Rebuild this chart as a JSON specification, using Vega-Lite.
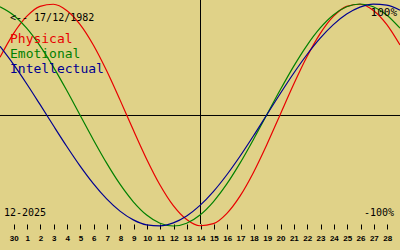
{
  "$schema": "https://vega.github.io/schema/vega-lite/v6.json",
  "width": 400,
  "height": 224,
  "autosize": "none",
  "padding": {"left": 0, "top": 0, "right": 0, "bottom": 26},
  "background": "#e0d288",
  "config": {
    "view": {"stroke": null},
    "axisX": {
      "domain": false,
      "grid": false,
      "tickSize": 5,
      "tickColor": "#000000",
      "tickWidth": 1,
      "tickOffset": 0.5,
      "labelPadding": 5,
      "labelFont": "Liberation Sans",
      "labelFontSize": 8,
      "labelFontWeight": "bold",
      "labelColor": "#000000",
      "labelOverlap": false,
      "labelFlush": false
    }
  },
  "layer": [
    {
      "data": {"values": [{}]},
      "mark": {"type": "rule", "color": "#000000", "strokeWidth": 1, "yOffset": 0.5},
      "encoding": {
        "y": {"datum": 0, "type": "quantitative", "axis": null}
      }
    },
    {
      "data": {"values": [{}]},
      "mark": {"type": "rule", "color": "#000000", "strokeWidth": 1, "xOffset": 0.5},
      "encoding": {
        "x": {"datum": {"year": 2025, "month": 12, "date": 14, "utc": true}, "type": "temporal", "axis": {"title": null, "tickCount": {"interval": "day", "step": 1}, "format": "%-d"}}
      }
    },
    {
      "data": {"values": [
        {"date": "2025-11-29", "series": "Physical", "value": 0.5196},
        {"date": "2025-11-30", "series": "Physical", "value": 0.7308},
        {"date": "2025-12-01", "series": "Physical", "value": 0.8879},
        {"date": "2025-12-02", "series": "Physical", "value": 0.9791},
        {"date": "2025-12-03", "series": "Physical", "value": 0.9977},
        {"date": "2025-12-04", "series": "Physical", "value": 0.9423},
        {"date": "2025-12-05", "series": "Physical", "value": 0.8170},
        {"date": "2025-12-06", "series": "Physical", "value": 0.6311},
        {"date": "2025-12-07", "series": "Physical", "value": 0.3984},
        {"date": "2025-12-08", "series": "Physical", "value": 0.1362},
        {"date": "2025-12-09", "series": "Physical", "value": -0.1362},
        {"date": "2025-12-10", "series": "Physical", "value": -0.3984},
        {"date": "2025-12-11", "series": "Physical", "value": -0.6311},
        {"date": "2025-12-12", "series": "Physical", "value": -0.8170},
        {"date": "2025-12-13", "series": "Physical", "value": -0.9423},
        {"date": "2025-12-14", "series": "Physical", "value": -0.9977},
        {"date": "2025-12-15", "series": "Physical", "value": -0.9791},
        {"date": "2025-12-16", "series": "Physical", "value": -0.8879},
        {"date": "2025-12-17", "series": "Physical", "value": -0.7308},
        {"date": "2025-12-18", "series": "Physical", "value": -0.5196},
        {"date": "2025-12-19", "series": "Physical", "value": -0.2698},
        {"date": "2025-12-20", "series": "Physical", "value": 0},
        {"date": "2025-12-21", "series": "Physical", "value": 0.2698},
        {"date": "2025-12-22", "series": "Physical", "value": 0.5196},
        {"date": "2025-12-23", "series": "Physical", "value": 0.7308},
        {"date": "2025-12-24", "series": "Physical", "value": 0.8879},
        {"date": "2025-12-25", "series": "Physical", "value": 0.9791},
        {"date": "2025-12-26", "series": "Physical", "value": 0.9977},
        {"date": "2025-12-27", "series": "Physical", "value": 0.9423},
        {"date": "2025-12-28", "series": "Physical", "value": 0.8170},
        {"date": "2025-12-29", "series": "Physical", "value": 0.6311},
        {"date": "2025-11-29", "series": "Emotional", "value": 0.9749},
        {"date": "2025-11-30", "series": "Emotional", "value": 0.9010},
        {"date": "2025-12-01", "series": "Emotional", "value": 0.7818},
        {"date": "2025-12-02", "series": "Emotional", "value": 0.6235},
        {"date": "2025-12-03", "series": "Emotional", "value": 0.4339},
        {"date": "2025-12-04", "series": "Emotional", "value": 0.2225},
        {"date": "2025-12-05", "series": "Emotional", "value": 0},
        {"date": "2025-12-06", "series": "Emotional", "value": -0.2225},
        {"date": "2025-12-07", "series": "Emotional", "value": -0.4339},
        {"date": "2025-12-08", "series": "Emotional", "value": -0.6235},
        {"date": "2025-12-09", "series": "Emotional", "value": -0.7818},
        {"date": "2025-12-10", "series": "Emotional", "value": -0.9010},
        {"date": "2025-12-11", "series": "Emotional", "value": -0.9749},
        {"date": "2025-12-12", "series": "Emotional", "value": -1},
        {"date": "2025-12-13", "series": "Emotional", "value": -0.9749},
        {"date": "2025-12-14", "series": "Emotional", "value": -0.9010},
        {"date": "2025-12-15", "series": "Emotional", "value": -0.7818},
        {"date": "2025-12-16", "series": "Emotional", "value": -0.6235},
        {"date": "2025-12-17", "series": "Emotional", "value": -0.4339},
        {"date": "2025-12-18", "series": "Emotional", "value": -0.2225},
        {"date": "2025-12-19", "series": "Emotional", "value": 0},
        {"date": "2025-12-20", "series": "Emotional", "value": 0.2225},
        {"date": "2025-12-21", "series": "Emotional", "value": 0.4339},
        {"date": "2025-12-22", "series": "Emotional", "value": 0.6235},
        {"date": "2025-12-23", "series": "Emotional", "value": 0.7818},
        {"date": "2025-12-24", "series": "Emotional", "value": 0.9010},
        {"date": "2025-12-25", "series": "Emotional", "value": 0.9749},
        {"date": "2025-12-26", "series": "Emotional", "value": 1},
        {"date": "2025-12-27", "series": "Emotional", "value": 0.9749},
        {"date": "2025-12-28", "series": "Emotional", "value": 0.9010},
        {"date": "2025-12-29", "series": "Emotional", "value": 0.7818},
        {"date": "2025-11-29", "series": "Intellectual", "value": 0.6182},
        {"date": "2025-11-30", "series": "Intellectual", "value": 0.4582},
        {"date": "2025-12-01", "series": "Intellectual", "value": 0.2817},
        {"date": "2025-12-02", "series": "Intellectual", "value": 0.0951},
        {"date": "2025-12-03", "series": "Intellectual", "value": -0.0951},
        {"date": "2025-12-04", "series": "Intellectual", "value": -0.2817},
        {"date": "2025-12-05", "series": "Intellectual", "value": -0.4582},
        {"date": "2025-12-06", "series": "Intellectual", "value": -0.6182},
        {"date": "2025-12-07", "series": "Intellectual", "value": -0.7557},
        {"date": "2025-12-08", "series": "Intellectual", "value": -0.8660},
        {"date": "2025-12-09", "series": "Intellectual", "value": -0.9450},
        {"date": "2025-12-10", "series": "Intellectual", "value": -0.9898},
        {"date": "2025-12-11", "series": "Intellectual", "value": -0.9989},
        {"date": "2025-12-12", "series": "Intellectual", "value": -0.9718},
        {"date": "2025-12-13", "series": "Intellectual", "value": -0.9096},
        {"date": "2025-12-14", "series": "Intellectual", "value": -0.8146},
        {"date": "2025-12-15", "series": "Intellectual", "value": -0.6901},
        {"date": "2025-12-16", "series": "Intellectual", "value": -0.5406},
        {"date": "2025-12-17", "series": "Intellectual", "value": -0.3717},
        {"date": "2025-12-18", "series": "Intellectual", "value": -0.1893},
        {"date": "2025-12-19", "series": "Intellectual", "value": 0},
        {"date": "2025-12-20", "series": "Intellectual", "value": 0.1893},
        {"date": "2025-12-21", "series": "Intellectual", "value": 0.3717},
        {"date": "2025-12-22", "series": "Intellectual", "value": 0.5406},
        {"date": "2025-12-23", "series": "Intellectual", "value": 0.6901},
        {"date": "2025-12-24", "series": "Intellectual", "value": 0.8146},
        {"date": "2025-12-25", "series": "Intellectual", "value": 0.9096},
        {"date": "2025-12-26", "series": "Intellectual", "value": 0.9718},
        {"date": "2025-12-27", "series": "Intellectual", "value": 0.9989},
        {"date": "2025-12-28", "series": "Intellectual", "value": 0.9898},
        {"date": "2025-12-29", "series": "Intellectual", "value": 0.9450}
      ]},
      "mark": {"type": "line", "strokeWidth": 1.2, "interpolate": "monotone"},
      "encoding": {
        "x": {
          "field": "date",
          "type": "temporal",
          "scale": {
            "type": "utc",
            "domain": [
              {"year": 2025, "month": 11, "date": 29, "hours": 0, "minutes": 1, "utc": true},
              {"year": 2025, "month": 12, "date": 28, "hours": 23, "minutes": 59, "utc": true}
            ],
            "nice": false
          },
          "axis": {"title": null, "tickCount": {"interval": "day", "step": 1}, "format": "%-d"}
        },
        "y": {
          "field": "value",
          "type": "quantitative",
          "scale": {"domain": [-0.982, 1.036], "nice": false, "zero": false},
          "axis": null
        },
        "color": {
          "field": "series",
          "type": "nominal",
          "scale": {"domain": ["Physical", "Emotional", "Intellectual"], "range": ["#e80000", "#008000", "#000090"]},
          "legend": null
        }
      }
    },
    {
      "data": {"values": [{}]},
      "mark": {"type": "text", "font": "DejaVu Sans Mono", "fontSize": 10, "align": "left", "baseline": "alphabetic", "color": "#000000"},
      "encoding": {
        "x": {"datum": {"year": 2025, "month": 11, "date": 29, "hours": 18, "utc": true}, "type": "temporal", "axis": {"title": null, "tickCount": {"interval": "day", "step": 1}, "format": "%-d"}},
        "y": {"datum": 0.847, "type": "quantitative", "axis": null},
        "text": {"value": "<-- 17/12/1982"}
      }
    },
    {
      "data": {"values": [{}]},
      "mark": {"type": "text", "font": "DejaVu Sans Mono", "fontSize": 13, "align": "left", "baseline": "alphabetic", "color": "#e80000"},
      "encoding": {
        "x": {"datum": {"year": 2025, "month": 11, "date": 29, "hours": 18, "utc": true}, "type": "temporal", "axis": {"title": null, "tickCount": {"interval": "day", "step": 1}, "format": "%-d"}},
        "y": {"datum": 0.649, "type": "quantitative", "axis": null},
        "text": {"value": "Physical"}
      }
    },
    {
      "data": {"values": [{}]},
      "mark": {"type": "text", "font": "DejaVu Sans Mono", "fontSize": 13, "align": "left", "baseline": "alphabetic", "color": "#008000"},
      "encoding": {
        "x": {"datum": {"year": 2025, "month": 11, "date": 29, "hours": 18, "utc": true}, "type": "temporal", "axis": {"title": null, "tickCount": {"interval": "day", "step": 1}, "format": "%-d"}},
        "y": {"datum": 0.5135, "type": "quantitative", "axis": null},
        "text": {"value": "Emotional"}
      }
    },
    {
      "data": {"values": [{}]},
      "mark": {"type": "text", "font": "DejaVu Sans Mono", "fontSize": 13, "align": "left", "baseline": "alphabetic", "color": "#000090"},
      "encoding": {
        "x": {"datum": {"year": 2025, "month": 11, "date": 29, "hours": 18, "utc": true}, "type": "temporal", "axis": {"title": null, "tickCount": {"interval": "day", "step": 1}, "format": "%-d"}},
        "y": {"datum": 0.378, "type": "quantitative", "axis": null},
        "text": {"value": "Intellectual"}
      }
    },
    {
      "data": {"values": [{}]},
      "mark": {"type": "text", "font": "DejaVu Sans Mono", "fontSize": 10, "align": "left", "baseline": "alphabetic", "color": "#000000"},
      "encoding": {
        "x": {"datum": {"year": 2025, "month": 11, "date": 29, "hours": 7, "minutes": 12, "utc": true}, "type": "temporal", "axis": {"title": null, "tickCount": {"interval": "day", "step": 1}, "format": "%-d"}},
        "y": {"datum": -0.91, "type": "quantitative", "axis": null},
        "text": {"value": "12-2025"}
      }
    },
    {
      "data": {"values": [{}]},
      "mark": {"type": "text", "font": "DejaVu Sans Mono", "fontSize": 10, "align": "right", "baseline": "alphabetic", "color": "#000000"},
      "encoding": {
        "x": {"datum": {"year": 2025, "month": 12, "date": 28, "hours": 13, "minutes": 12, "utc": true}, "type": "temporal", "axis": {"title": null, "tickCount": {"interval": "day", "step": 1}, "format": "%-d"}},
        "y": {"datum": -0.91, "type": "quantitative", "axis": null},
        "text": {"value": "-100%"}
      }
    },
    {
      "data": {"values": [{}]},
      "mark": {"type": "text", "font": "DejaVu Sans Mono", "fontSize": 11, "align": "right", "baseline": "alphabetic", "color": "#000000"},
      "encoding": {
        "x": {"datum": {"year": 2025, "month": 12, "date": 28, "hours": 18, "minutes": 36, "utc": true}, "type": "temporal", "axis": {"title": null, "tickCount": {"interval": "day", "step": 1}, "format": "%-d"}},
        "y": {"datum": 0.892, "type": "quantitative", "axis": null},
        "text": {"value": "100%"}
      }
    }
  ]
}
